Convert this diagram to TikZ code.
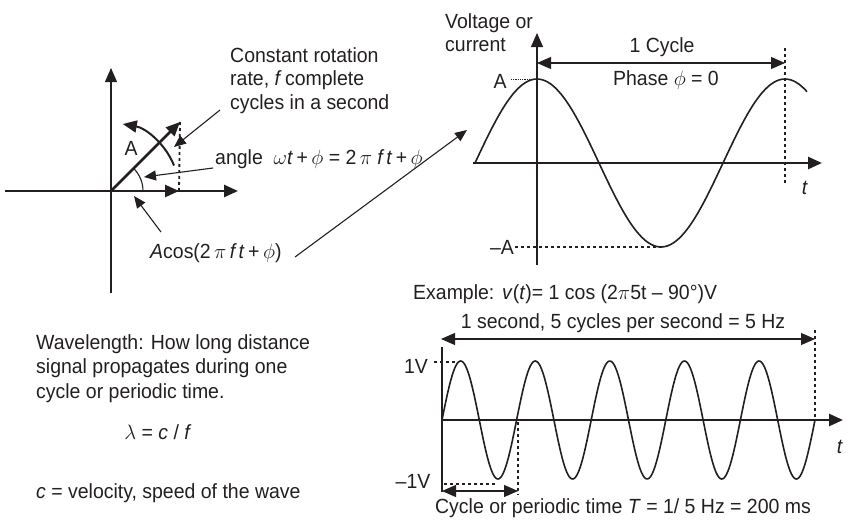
\documentclass[tikz,border=0pt]{standalone}
\usepackage{fontspec}
\setmainfont{Liberation Sans}[FakeStretch=0.95]
\usetikzlibrary{arrows.meta,calc}
\definecolor{InkClr}{RGB}{35,31,32}

\tikzset{
  lbl/.style={font=\fontsize{20.5}{23.5}\selectfont,inner sep=0pt,text=InkClr},
  bigtip/.style={-{Triangle[length=14pt,width=12pt]}},
  bothtips/.style={{Triangle[length=14pt,width=12pt]}-{Triangle[length=14pt,width=12pt]}},
  smalltip/.style={-{Triangle[length=12pt,width=10pt]}},
  thinline/.style={line width=1.1pt},
  thickline/.style={line width=2.6pt},
  waveline/.style={line width=1.6pt},
  dashline/.style={line width=1.4pt,dash pattern=on 3pt off 3pt},
  dotline/.style={line width=0.7pt,dash pattern=on 1pt off 0.8pt},
}

\begin{document}
\begin{tikzpicture}[x=1pt,y=-1pt,draw=InkClr]
\useasboundingbox (0,0) rectangle (867,522);

% rotating phasor
\coordinate (O) at (111,191);
\coordinate (Tip) at (180,122);
\coordinate (Proj) at (179,191);
\draw[thinline,bigtip] (111,293) -- (111,68);
\draw[thickline,bigtip] (5,191) -- (238,191);
\draw[thickline,bigtip] (O) -- (Tip);
\draw[thickline,bigtip] (O) -- (Proj);
\draw[dashline,line width=1.8pt] (Tip) -- (Proj);
\draw[line width=2pt,bigtip] ($(O)+(22:68pt)$) arc[start angle=22,end angle=80,radius=68pt];
\draw[thinline] ($(O)+(0:32pt)$) arc[start angle=0,end angle=45,radius=32pt];
\node[lbl] (amp) at (131,148) {A};

\node[lbl,align=left,anchor=north west] (rate) at (230,47) {Constant rotation\\rate, \textit{f}\,complete\\cycles in a second};
\node[lbl,anchor=base west] (angle) at (215,164) {angle\ \ $\omega$\textit{t}\,+\,$\phi$ = 2\,$\pi$\ \textit{f\,t}\,+\,$\phi$};
\node[lbl,anchor=base west] (cosA) at (150,258) {\textit{A}cos(2\,$\pi$\,\textit{f\,t}\,+\,$\phi$)};

\coordinate (rateP) at (220,110);
\coordinate (rateT) at (174,147);
\coordinate (angleP) at (213,168);
\coordinate (angleT) at (144,177);
\coordinate (cosP) at (161,232);
\coordinate (cosT) at (134,196);
\coordinate (linkP) at (295,257);
\coordinate (linkT) at (467,130);
\draw[thinline,smalltip] (rateP) -- (rateT);
\draw[thinline,smalltip] (angleP) -- (angleT);
\draw[thinline,smalltip] (cosP) -- (cosT);
\draw[thinline,smalltip] (linkP) -- (linkT);

% one cycle of the wave
\draw[thinline,bigtip] (537,265) -- (537,33);
\draw[thickline,bigtip] (473,163) -- (822,163);
\draw[waveline] plot[domain=475:807,samples=120,smooth] (\x,{163-84*cos((\x-537)/248*360)});
\draw[thinline,bothtips] (537,63) -- (785,63);
\draw[dashline] (785,48) -- (785,183);
\draw[dotline] (511,79) -- (537,79);
\draw[dashline] (515,247) -- (663,247);
\node[lbl,align=left,anchor=north west] (volt) at (445,13) {Voltage or\\current};
\node[lbl] (cyc) at (662,47) {1 Cycle};
\node[lbl] (phase) at (666,80) {Phase $\phi$ = 0};
\node[lbl] (Apos) at (500,81) {A};
\node[lbl] (Aneg) at (502,247) {--A};
\node[lbl] (t1) at (805,188) {\textit{t}};

% example wave
\node[lbl,anchor=base west] (ex) at (413,299) {Example:};
\node[lbl,anchor=base west] (vt) at (502,299) {\textit{v}(\textit{t})= 1 cos (2$\pi$5t -- 90°)V};
\node[lbl] (sec) at (623,323) {1 second, 5 cycles per second = 5 Hz};
\draw[thinline,bothtips] (441,339) -- (815,339);
\draw[dashline] (815,330) -- (815,420);
\draw[thinline] (442,347) -- (442,492);
\draw[thickline,bigtip] (442,420) -- (843,420);
\draw[waveline] plot[domain=442:815,samples=300,smooth] (\x,{420-59*sin((\x-442)/74.6*360)});
\draw[dashline] (518,422) -- (518,495);
\draw[dashline] (434,362) -- (458,362);
\draw[dashline] (444,484) -- (497,484);
\draw[thinline,bothtips] (442,491) -- (518,491);
\node[lbl] (oneV) at (416,366) {1V};
\node[lbl] (mV) at (413,481) {--1V};
\node[lbl] (t2) at (840,447) {\textit{t}};
\node[lbl] (per) at (623,508) {Cycle or periodic time \textit{T} = 1/ 5 Hz = 200 ms};

% wavelength note
\node[lbl,align=left,anchor=north west,font=\fontsize{20.5}{24.5}\selectfont] (wave) at (36,334) {Wavelength: How long distance\\signal propagates during one\\cycle or periodic time.};
\node[lbl] (lam) at (158,432) {$\lambda$ = \textit{c} / \textit{f}};
\node[lbl,anchor=west] (vel) at (36,493) {\textit{c} = velocity, speed of the wave};

\end{tikzpicture}
\end{document}
